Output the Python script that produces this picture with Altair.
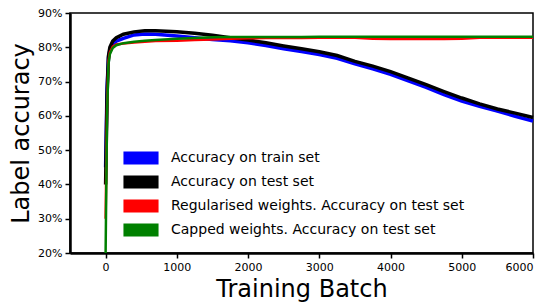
import altair as alt
import pandas as pd

batches = [0, 20, 40, 60, 100, 150, 250, 400, 550, 700, 1000, 1250, 1500, 1750, 2000,
           2250, 2500, 2750, 3000, 3250, 3500, 3750, 4000, 4250, 4500, 4750, 5000,
           5250, 5500, 5750, 6000]

train_acc = [45, 68, 77, 79.2, 80.8, 81.8, 82.6, 83.6, 83.9, 83.8, 83.3, 82.8, 82.3, 81.9, 81.3,
             80.5, 79.6, 78.8, 77.9, 76.8, 75.2, 73.7, 72.1, 70.2, 68.3, 66.2, 64.3,
             62.8, 61.4, 59.9, 58.5]
test_acc = [40, 66, 77.5, 80, 81.8, 82.8, 83.8, 84.5, 84.8, 84.8, 84.5, 84.1, 83.5, 82.8, 82.1,
            81.3, 80.4, 79.6, 78.7, 77.6, 75.9, 74.5, 72.9, 71.0, 69.1, 67.1, 65.2,
            63.5, 62.0, 60.8, 59.5]
reg_acc = [30, 62, 76, 78.5, 80.2, 80.8, 81.1, 81.4, 81.6, 81.8, 81.9, 82.1, 82.3, 82.5, 82.6,
           82.7, 82.7, 82.7, 82.8, 82.8, 82.8, 82.5, 82.4, 82.4, 82.4, 82.4, 82.5,
           82.8, 82.8, 82.8, 82.8]
cap_acc = [20, 60, 75, 78, 79.8, 80.6, 81.2, 81.6, 81.9, 82.1, 82.5, 82.7, 82.9, 83.0, 83.0,
           83.0, 83.0, 83.0, 83.05, 83.05, 83.05, 83.05, 83.05, 83.05, 83.05, 83.05, 83.05,
           83.05, 83.05, 83.05, 83.05]

series_names = [
    "Accuracy on train set",
    "Accuracy on test set",
    "Regularised weights. Accuracy on test set",
    "Capped weights. Accuracy on test set",
]
series_colors = ["#0000ff", "#000000", "#ff0000", "#008000"]
series_values = [train_acc, test_acc, reg_acc, cap_acc]

rows = []
for i, (name, vals) in enumerate(zip(series_names, series_values)):
    for b, v in zip(batches, vals):
        rows.append({"batch": b, "acc": v / 100.0, "series": name, "order": i})
df = pd.DataFrame(rows)

legend_path = "M-2.7,-1H2.7V1H-2.7Z"

x_enc = alt.X("batch:Q",
              scale=alt.Scale(domain=[-500, 6000], nice=False, zero=False),
              axis=alt.Axis(values=[0, 1000, 2000, 3000, 4000, 5000, 6000], format="d",
                            title="Training Batch", titlePadding=5))
y_enc = alt.Y("acc:Q",
              scale=alt.Scale(domain=[0.2, 0.9], nice=False, zero=False),
              axis=alt.Axis(values=[0.2, 0.3, 0.4, 0.5, 0.6, 0.7, 0.8, 0.9], format=".0%",
                            title="Label accuracy", titlePadding=4))
c_enc = alt.Color("series:N",
                  scale=alt.Scale(domain=series_names, range=series_colors),
                  sort=series_names,
                  legend=alt.Legend(title=None, orient="none", legendX=64, legendY=138,
                                    symbolType=legend_path, symbolSize=169,
                                    symbolStrokeWidth=0, symbolOpacity=1,
                                    labelFontSize=14, labelFont="DejaVu Sans",
                                    labelColor="black", labelOffset=23,
                                    rowPadding=10, padding=0, labelLimit=400))

base = alt.Chart(df).encode(x=x_enc, y=y_enc, color=c_enc)

legend_layer = base.mark_point(filled=True, opacity=0, size=1)
thick = base.transform_filter(alt.datum.order < 2).mark_line(
    strokeWidth=3.5, strokeCap="butt").encode(detail="series:N")
thin = base.transform_filter(alt.datum.order >= 2).mark_line(
    strokeWidth=2.5, strokeCap="butt").encode(detail="series:N")

chart = alt.layer(legend_layer, thick, thin).properties(
    width=463,
    height=240,
    autosize=alt.AutoSizeParams(type="none"),
    padding={"left": 62, "top": 5, "right": 8, "bottom": 52},
).configure_view(
    stroke="black", strokeWidth=1.5
).configure_axis(
    grid=False,
    domainColor="black", domainWidth=2.5,
    tickColor="black", tickWidth=1.5, tickSize=5,
    labelFont="DejaVu Sans", labelFontSize=11, labelColor="black", labelPadding=3,
    titleFont="DejaVu Sans", titleFontSize=24, titleFontWeight="normal", titleColor="black",
)

chart.save("out.html", embed_options={"renderer": "svg", "actions": False})
